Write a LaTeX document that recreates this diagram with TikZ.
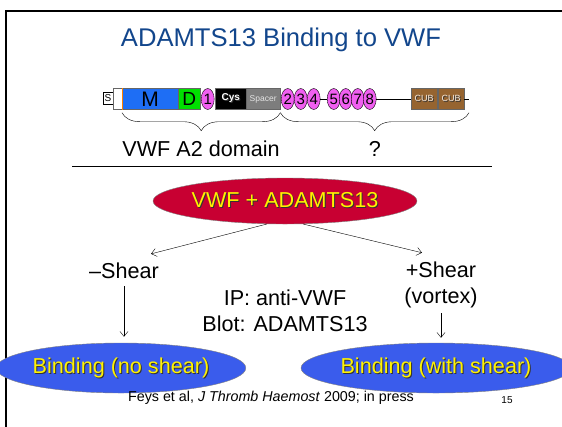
\documentclass[tikz,border=0pt]{standalone}
\usepackage{fontspec}
\setmainfont{Liberation Sans}
\usetikzlibrary{shapes.geometric,decorations.pathreplacing,arrows.meta}

\definecolor{titleblue}{RGB}{18,70,140}
\definecolor{vwfred}{RGB}{200,0,50}
\definecolor{bindblue}{RGB}{58,92,236}
\definecolor{mblue}{RGB}{30,110,245}
\definecolor{dgreen}{RGB}{0,225,0}
\definecolor{tspink}{RGB}{240,95,240}
\definecolor{cubbrown}{RGB}{150,100,48}
\definecolor{spgray}{RGB}{125,125,125}

% text with a dark drop shadow
\newcommand\shtext[2][yellow]{\makebox[0pt][l]{\hspace{1pt}\raisebox{-1pt}{\textcolor{black!80}{#2}}}\textcolor{#1}{#2}}

\begin{document}
\begin{tikzpicture}[x=1pt,y=-1pt,
        >={Straight Barb[length=5pt,width=8pt]},
        every node/.style={inner sep=0pt},
        dom/.style={draw=black!60, minimum height=21, anchor=west},
        rep/.style={ellipse, draw, fill=tspink, minimum width=13, minimum height=21,
                    anchor=west, font=\fontsize{15}{15}\selectfont},
        cub/.style={dom, fill=cubbrown, minimum width=26, font=\fontsize{9}{9}\selectfont},
        oval/.style={ellipse, draw=black!50, fill=bindblue, minimum height=50},
        lbl/.style={font=\fontsize{21.6}{26}\selectfont, align=center},
        brace/.style={decorate, decoration={brace, mirror, amplitude=18pt}}
    ]
    \clip (0,0) rectangle (562,426);
    \fill[white] (0,0) rectangle (562,426);
    \draw[line width=2.5pt] (6,11) rectangle (600,480);

    % title
    \node[font=\fontsize{25.6}{30}\selectfont, text=titleblue] (title) at (281,40) {ADAMTS13 Binding to VWF};

    % domain structure
    \node[draw, minimum width=10, minimum height=12, font=\fontsize{10}{10}\selectfont] (sig) at (108,98) {S};
    \node[dom, fill=white, minimum width=9] (pro) at (113,99) {};
    \node[dom, fill=mblue, minimum width=56, font=\fontsize{21}{21}\selectfont] (mbox) at (122,99) {M};
    \draw[orange, line width=1.2pt] (pro.north east) -- (pro.south east);
    \node[dom, fill=dgreen, minimum width=22, font=\fontsize{19}{19}\selectfont] (dbox) at (178,99) {D};
    \node[rep] (r1) at (201,99) {1};
    \node[dom, fill=black, minimum width=31, font=\bfseries\fontsize{10}{10}\selectfont] (cys) at (215,99) {\shtext[white]{Cys}};
    \node[dom, fill=spgray, minimum width=34, font=\fontsize{8.5}{9}\selectfont] (spacer) at (246,99) {\textcolor{white!90!black}{Spacer}};
    \node[rep] (r2) at (281,99) {2};
    \node[rep] (r3) at (294,99) {3};
    \node[rep] (r4) at (307,99) {4};
    \node[rep] (r5) at (327,99) {5};
    \node[rep] (r6) at (339,99) {6};
    \node[rep] (r7) at (351,99) {7};
    \node[rep] (r8) at (363,99) {8};
    \node[cub] (cub1) at (411,99) {\shtext[white!85!brown]{CUB}};
    \node[cub] (cub2) at (438,99) {\shtext[white!85!brown]{CUB}};
    \coordinate (tail) at (469,99);
    \draw[thick] (r4.east) -- (r5.west);
    \draw[thick] (r8.east) -- (cub1.west);
    \draw[thick] (cub2.east) -- (tail);

    % braces and labels
    \draw[brace] ([yshift=-3pt]mbox.south west) -- ([yshift=-3pt]spacer.south east);
    \draw[brace] ([yshift=-3pt]spacer.south east) -- ([yshift=-3pt]tail |- cub2.south);
    \node[lbl] (a2) at (201,149) {VWF A2 domain};
    \node[lbl] (unk) at (375,149) {?};
    \draw (72,166) -- (492,166);

    % binding experiment
    \node[ellipse, draw=black!50, fill=vwfred, minimum width=236, minimum height=46,
          font=\fontsize{21.6}{26}\selectfont] (vwf) at (285,201) {\shtext{VWF + ADAMTS13}};
    \node[lbl] (noshear) at (124,271) {--Shear};
    \node[lbl] (withshear) at (441,285) {+Shear\\(vortex)};
    \node[lbl] (ip) at (285,311) {IP: anti-VWF\\Blot: ADAMTS13};
    \node[oval, minimum width=227, font=\fontsize{21.6}{26}\selectfont] (bindno) at (121,368) {\shtext{Binding (no shear)}};
    \node[oval, minimum width=212, font=\fontsize{21.6}{26}\selectfont] (bindwith) at (436,368) {\shtext{Binding (with shear)}};

    \draw[->] (vwf.-128) -- ([shift={(-8pt,9pt)}]noshear.north east);
    \draw[->] (vwf.-52) -- ([shift={(-19pt,9pt)}]withshear.north);
    \draw[->] ([yshift=-7pt]noshear.south) -- ([yshift=6pt]noshear.south |- bindno.north);
    \draw[->] ([yshift=-5pt]withshear.south) -- ([yshift=5pt]withshear.south |- bindwith.north);

    % reference and slide number
    \node[font=\fontsize{14.3}{17}\selectfont] (ref) at (271,398) {Feys et al, \textit{J Thromb Haemost} 2009; in press};
    \node[font=\fontsize{10}{10}\selectfont] (num) at (507,400) {15};
\end{tikzpicture}
\end{document}
